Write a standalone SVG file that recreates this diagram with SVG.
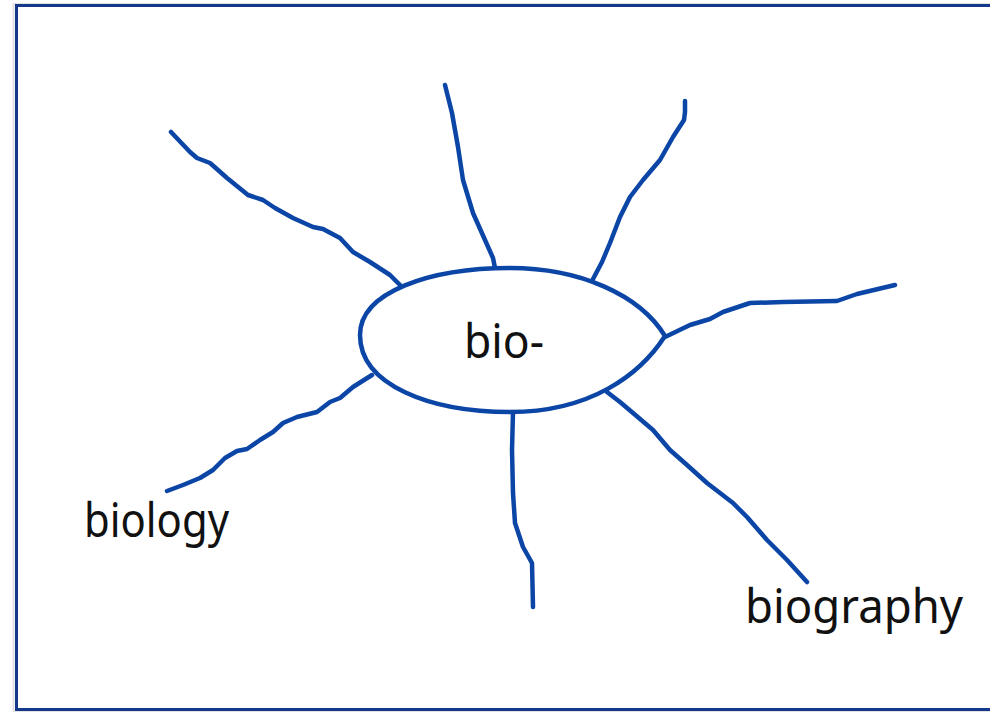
<svg xmlns="http://www.w3.org/2000/svg" width="990" height="712" viewBox="0 0 990 712">
<style>
.spoke{fill:none;stroke:#0b45a6;stroke-width:4.5;stroke-linecap:round;stroke-linejoin:round}
.lbl{font-family:"Noto Sans","DejaVu Sans",sans-serif;font-size:48px;fill:#111}
</style>
<rect width="990" height="712" fill="#fff"/>
<rect x="13.5" y="4" width="990" height="708" fill="none" stroke="#e2e2e2" stroke-width="2"/>
<rect x="16.5" y="5.5" width="990" height="704" fill="#fff" stroke="#14398a" stroke-width="3"/>
<g id="connectors">
<path class="spoke" d="M171,132 L190,152 L197,158 L210,163 L218,170 L227,178 L248,195 L263,200 L275,208 L293,218 L313,227 L323,229 L340,238 L353,252 L370,262 L390,275 L402,287"/>
<path class="spoke" d="M445,85 L448,97 L452,113 L458,147 L463,180 L473,213 L485,240 L493,258 L495,268"/>
<path class="spoke" d="M685,101 L685,112 L684,120 L673,137 L660,160 L643,180 L630,197 L620,217 L610,243 L602,262 L593,279"/>
<path class="spoke" d="M665,337 L690,325 L710,319 L723,312 L750,303 L783,302 L837,301 L857,294 L895,285"/>
<path class="spoke" d="M607,392 L620,402 L633,413 L653,430 L670,450 L687,465 L707,483 L733,503 L747,517 L767,540 L787,560 L807,582"/>
<path class="spoke" d="M513,412 L512,450 L513,493 L515,523 L523,547 L532,563 L533,607"/>
<path class="spoke" d="M372,375 L353,387 L340,398 L330,402 L317,412 L297,417 L283,423 L273,432 L260,440 L247,449 L237,451 L225,458 L213,470 L200,478 L183,485 L167,491"/>
</g>
<g id="node-bio">
<path d="M360,335 C360,292 430,268 510,268 C580,268 640,295 665,336 C640,375 590,412 510,412 C430,412 360,385 360,335 Z" fill="#fff" stroke="#0b45a6" stroke-width="4.5"/>
<text class="lbl" x="464" y="358" textLength="80" lengthAdjust="spacingAndGlyphs">bio-</text>
</g>
<g id="label-biology">
<text class="lbl" x="84" y="537" textLength="145" lengthAdjust="spacingAndGlyphs">biology</text>
</g>
<g id="label-biography">
<text class="lbl" x="745" y="623" textLength="218" lengthAdjust="spacingAndGlyphs">biography</text>
</g>
</svg>
